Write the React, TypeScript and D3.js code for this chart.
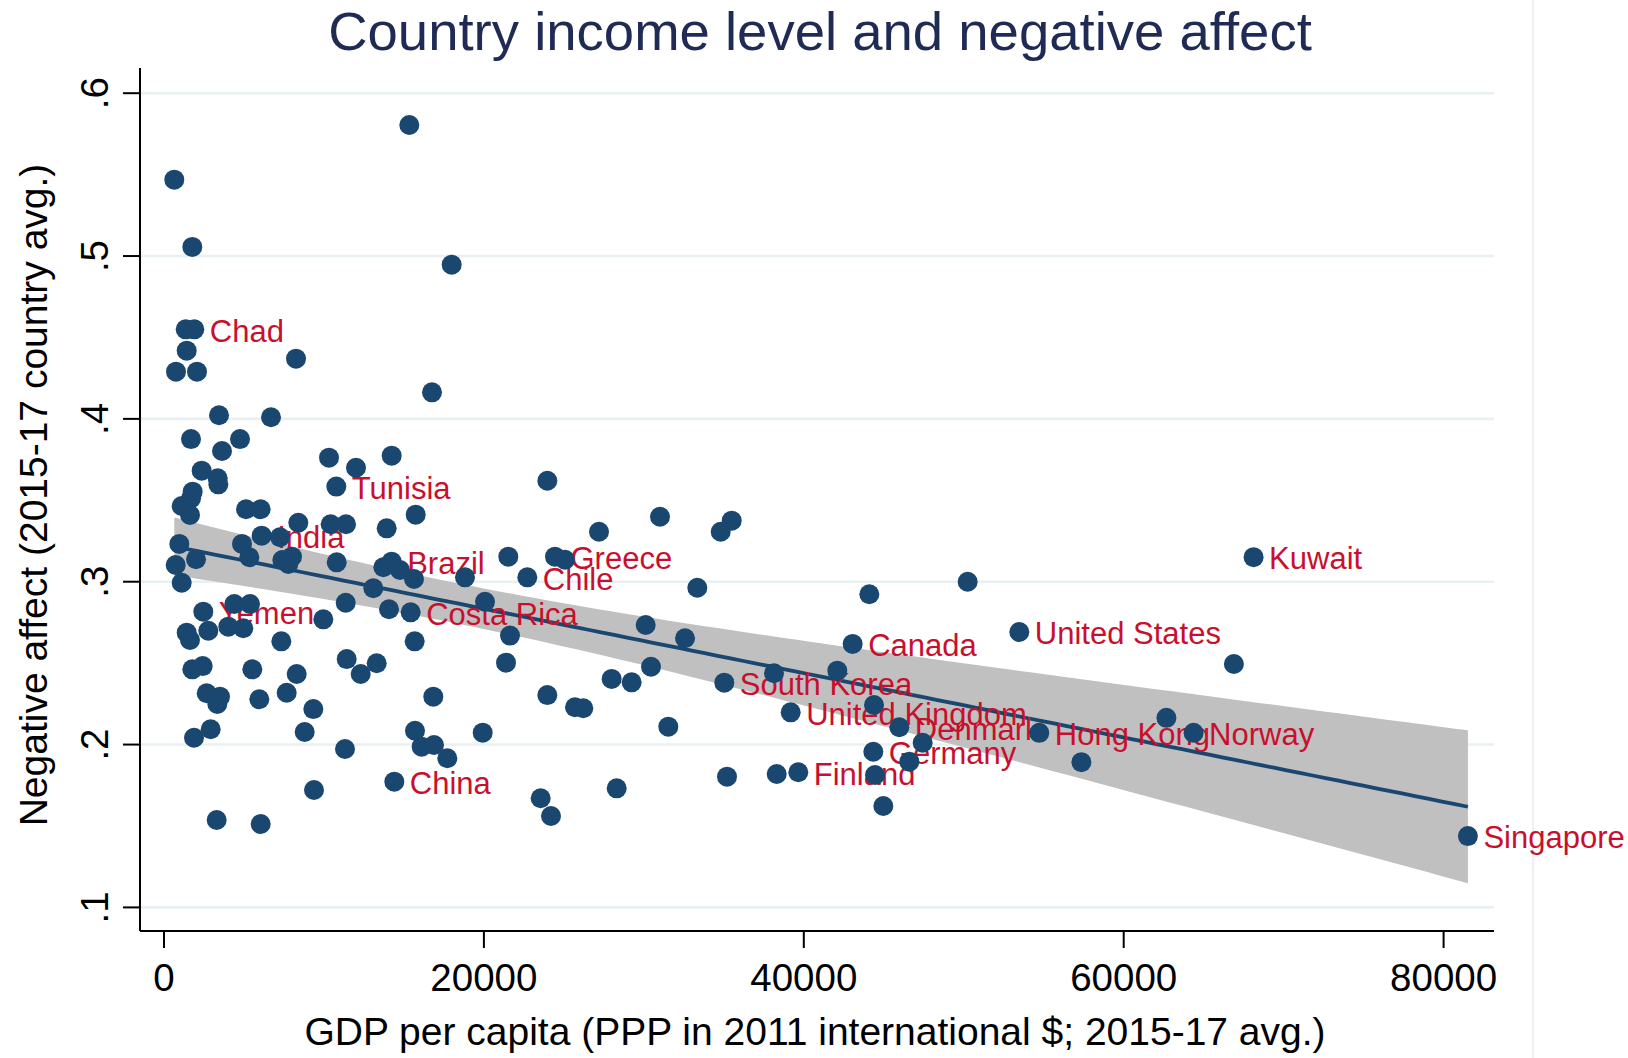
import React from "react";
import * as d3 from "d3";

// GDP per capita (PPP, 2011 int. $; 2015-17 avg.) by country
const gdp = [
  15336, 644, 1770, 17986, 1356, 1895, 1418, 750, 2063, 8253,
  16755, 3439, 6690, 1688, 4752, 3626, 2355, 3357, 3397, 10316,
  12004, 14234, 10773, 23966, 1793, 1690, 1106, 1626, 5127, 6044,
  8398, 10420, 11379, 13922, 15736, 959, 4877, 6106, 7252, 2001,
  731, 1106, 5335, 7397, 8003, 7772, 10797, 13088, 13713, 14234,
  14755, 15630, 18818, 21526, 22714, 24445, 25070, 20069, 11360, 2457,
  4395, 5377, 4020, 4958, 2770, 1418, 1626, 9961, 14067, 15422,
  7335, 15672, 21632, 11421, 13297, 12296, 21382, 1770, 2420, 5521,
  8296, 16837, 23966, 25695, 26215, 2669, 3501, 3335, 5960, 7669,
  9336, 2918, 1876, 8795, 11316, 15692, 16109, 16880, 17713, 19925,
  14400, 9378, 23549, 24195, 3293, 6044, 31010, 27196, 35493, 34805,
  33342, 44097, 50244, 43055, 30115, 32573, 30447, 27987, 29237, 35030,
  38137, 42095, 39180, 44389, 45971, 47432, 44347, 46597, 44451, 44972,
  39656, 38305, 35199, 31529, 28302, 68121, 53473, 66890, 62670, 64370,
  54722, 57355, 81520,
];

// Negative affect index (2015-17 country avg.), same order as gdp
const negAffect = [
  0.5805, 0.5469, 0.5056, 0.4947, 0.455, 0.455, 0.4419, 0.429, 0.429, 0.437,
  0.4163, 0.4022, 0.401, 0.3876, 0.3876, 0.3803, 0.3682, 0.3635, 0.3598, 0.3762,
  0.37, 0.3774, 0.3584, 0.362, 0.3553, 0.3512, 0.3465, 0.341, 0.3445, 0.3445,
  0.3362, 0.3353, 0.3353, 0.3328, 0.3412, 0.3232, 0.3232, 0.3283, 0.3273, 0.3138,
  0.3103, 0.2994, 0.315, 0.3133, 0.3154, 0.3109, 0.3119, 0.296, 0.3089, 0.3123,
  0.3072, 0.3017, 0.3027, 0.3154, 0.3027, 0.3154, 0.3135, 0.2877, 0.2871, 0.2816,
  0.2863, 0.2863, 0.2724, 0.2714, 0.2699, 0.2687, 0.2642, 0.2769, 0.2831, 0.2812,
  0.2634, 0.2634, 0.2669, 0.2525, 0.2499, 0.2433, 0.2503, 0.2462, 0.2482, 0.2462,
  0.2433, 0.2294, 0.2304, 0.2229, 0.2223, 0.2315, 0.2294, 0.2249, 0.2278, 0.2318,
  0.2218, 0.2094, 0.2042, 0.2077, 0.1973, 0.2085, 0.1987, 0.1997, 0.1916, 0.2073,
  0.1772, 0.1721, 0.167, 0.1561, 0.1537, 0.1512, 0.3399, 0.3307, 0.3375, 0.3307,
  0.2963, 0.2923, 0.3, 0.2618, 0.2734, 0.2653, 0.2478, 0.2403, 0.2382, 0.238,
  0.2438, 0.2454, 0.2198, 0.2243, 0.2106, 0.2011, 0.1956, 0.1895, 0.1813, 0.1623,
  0.183, 0.1819, 0.1803, 0.211, 0.1731, 0.3151, 0.2691, 0.2495, 0.2164, 0.2072,
  0.2072, 0.1892, 0.1438,
];

// Marker labels (empty = unlabelled), same order as gdp
const countryLabel = [
  "", "", "", "", "", "Chad", "", "", "", "",
  "", "", "", "", "", "", "", "", "", "",
  "", "", "Tunisia", "", "", "", "", "", "", "",
  "", "", "", "", "", "", "", "India", "", "",
  "", "", "", "", "", "", "", "", "", "Brazil",
  "", "", "", "", "Chile", "Greece", "", "", "", "Yemen",
  "", "", "", "", "", "", "", "", "", "Costa Rica",
  "", "", "", "", "", "", "", "", "", "",
  "", "", "", "", "", "", "", "", "", "",
  "", "", "", "", "", "", "", "", "", "",
  "China", "", "", "", "", "", "", "", "", "",
  "", "", "", "Canada", "", "", "", "", "", "South Korea",
  "", "", "United Kingdom", "", "Denmark", "", "Germany", "", "", "",
  "Finland", "", "", "", "", "Kuwait", "United States", "", "", "Norway",
  "Hong Kong", "", "Singapore",
];

const xTicks = [0, 20000, 40000, 60000, 80000];
const yTicks = [0.1, 0.2, 0.3, 0.4, 0.5, 0.6];
const yTickLabels = [".1", ".2", ".3", ".4", ".5", ".6"];

const TITLE = "Country income level and negative affect";
const X_TITLE = "GDP per capita (PPP in 2011 international $; 2015-17 avg.)";
const Y_TITLE = "Negative affect (2015-17 country avg.)";

// two-sided 95% t critical value, df = n - 2
const T_CRIT = 1.977;

const W = 1628;
const H = 1058;
const plot = { left: 140, right: 1494, top: 68, bottom: 931 };

const FONT = "'Liberation Sans', Arial, Helvetica, sans-serif";
const NAVY = "#1a476f";
const LABEL_RED = "#c8102e";
const GRID = "#e9f0f2";

export default function App() {
  const x = d3.scaleLinear().domain([0, 80000]).range([164, 1443.6]);
  const y = d3.scaleLinear().domain([0.1, 0.6]).range([907.4, 93.2]);

  // Linear fit with 95% confidence band for the mean
  const n = gdp.length;
  const xbar = d3.mean(gdp) as number;
  const ybar = d3.mean(negAffect) as number;
  let sxx = 0;
  let sxy = 0;
  for (let i = 0; i < n; i++) {
    sxx += (gdp[i] - xbar) ** 2;
    sxy += (gdp[i] - xbar) * (negAffect[i] - ybar);
  }
  const slope = sxy / sxx;
  const intercept = ybar - slope * xbar;
  let sse = 0;
  for (let i = 0; i < n; i++) {
    sse += (negAffect[i] - (intercept + slope * gdp[i])) ** 2;
  }
  const s = Math.sqrt(sse / (n - 2));
  const [xmin, xmax] = d3.extent(gdp) as [number, number];
  const grid = d3.range(0, 101).map((k) => xmin + ((xmax - xmin) * k) / 100);
  const fit = grid.map((gx) => {
    const yhat = intercept + slope * gx;
    const half = T_CRIT * s * Math.sqrt(1 / n + (gx - xbar) ** 2 / sxx);
    return { gx, yhat, lo: yhat - half, hi: yhat + half };
  });

  const band = d3
    .area<{ gx: number; lo: number; hi: number }>()
    .x((d) => x(d.gx))
    .y0((d) => y(d.lo))
    .y1((d) => y(d.hi));
  const line = d3
    .line<{ gx: number; yhat: number }>()
    .x((d) => x(d.gx))
    .y((d) => y(d.yhat));

  const pts = gdp.map((g, i) => ({ g, v: negAffect[i], name: countryLabel[i] }));

  return (
    <div style={{ position: "absolute", left: 0, top: 0 }}>
      <svg width={W} height={H} style={{ display: "block", background: "#fff" }} fontFamily={FONT}>
        <rect x={0} y={0} width={W} height={H} fill="#fff" />
        <line x1={1533} x2={1533} y1={0} y2={H} stroke="#e6eef1" strokeWidth={1.5} />

        <text x={820} y={50} textAnchor="middle" fontSize={54.5} fill="#1f2b55">
          {TITLE}
        </text>

        {/* horizontal gridlines */}
        {yTicks.map((t) => (
          <line key={"g" + t} x1={plot.left} x2={plot.right} y1={y(t)} y2={y(t)} stroke={GRID} strokeWidth={2.6} />
        ))}

        {/* fit band and line */}
        <path d={band(fit) || ""} fill="#c0c0c0" stroke="none" />
        <path d={line(fit) || ""} fill="none" stroke={NAVY} strokeWidth={3.8} />

        {/* axes */}
        <line x1={plot.left} x2={plot.left} y1={plot.top} y2={plot.bottom} stroke="#000" strokeWidth={2} />
        <line x1={plot.left} x2={plot.right} y1={plot.bottom} y2={plot.bottom} stroke="#000" strokeWidth={2} />
        {yTicks.map((t, i) => (
          <g key={"yt" + t}>
            <line x1={plot.left - 17} x2={plot.left} y1={y(t)} y2={y(t)} stroke="#000" strokeWidth={2} />
            <text
              transform={`translate(108,${y(t)}) rotate(-90)`}
              textAnchor="middle"
              fontSize={38.5}
              fill="#000"
            >
              {yTickLabels[i]}
            </text>
          </g>
        ))}
        {xTicks.map((t) => (
          <g key={"xt" + t}>
            <line x1={x(t)} x2={x(t)} y1={plot.bottom} y2={plot.bottom + 17} stroke="#000" strokeWidth={2} />
            <text x={x(t)} y={991} textAnchor="middle" fontSize={38.5} fill="#000">
              {t}
            </text>
          </g>
        ))}
        <text x={815} y={1045} textAnchor="middle" fontSize={39} fill="#000">
          {X_TITLE}
        </text>
        <text transform="translate(47,495) rotate(-90)" textAnchor="middle" fontSize={39} fill="#000">
          {Y_TITLE}
        </text>

        {/* marker labels */}
        {pts
          .filter((p) => p.name)
          .map((p) => (
            <text key={"l" + p.name} x={x(p.g) + 15.5} y={y(p.v) + 12.3} fontSize={31} fill={LABEL_RED}>
              {p.name}
            </text>
          ))}

        {/* markers */}
        {pts.map((p, i) => (
          <circle key={"m" + i} cx={x(p.g)} cy={y(p.v)} r={10} fill={NAVY} />
        ))}
      </svg>
    </div>
  );
}
